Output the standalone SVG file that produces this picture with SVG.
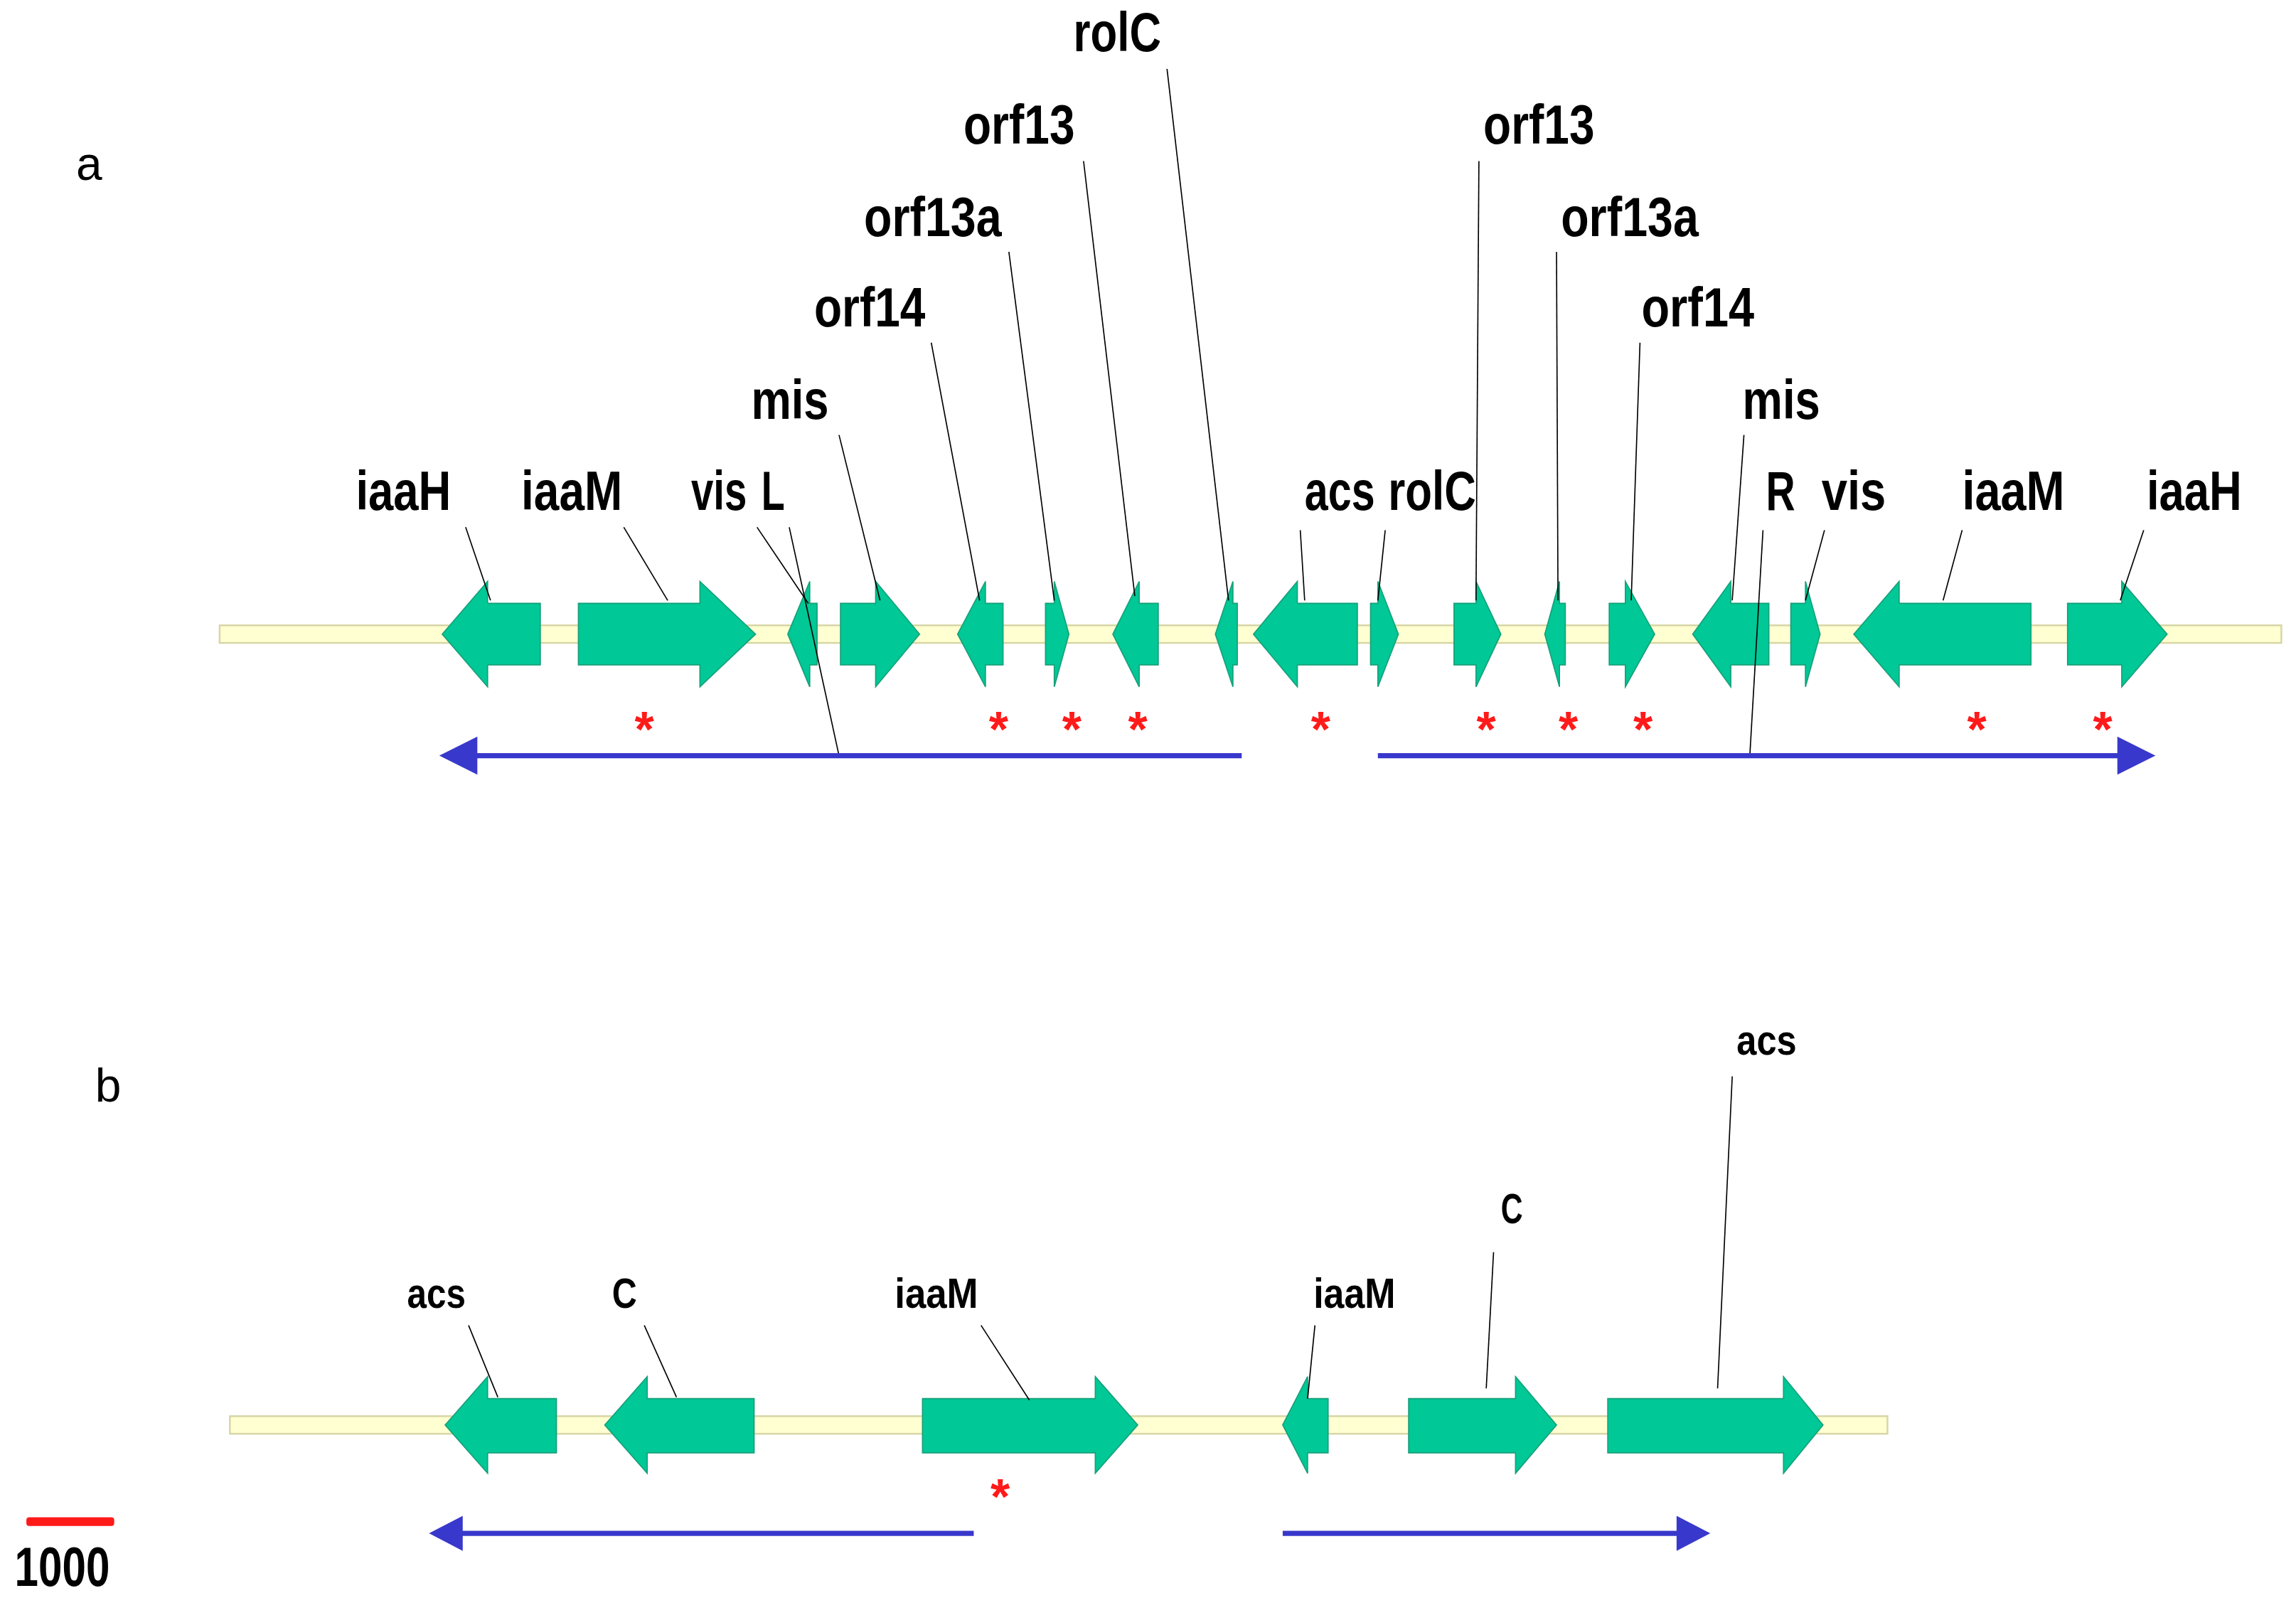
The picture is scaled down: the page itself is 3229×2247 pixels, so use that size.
<svg xmlns="http://www.w3.org/2000/svg" width="3229" height="2247" viewBox="0 0 3229 2247">
<style>
.g{fill:#00c896;stroke:#16a07a;stroke-width:0.8}
.bb{fill:#ffffd2;stroke:#d6d6a6;stroke-width:1.2}
.la{font-family:"Liberation Sans",Arial,sans-serif;font-weight:bold;font-size:38px;fill:#000}
.lb{font-family:"Liberation Sans",Arial,sans-serif;font-weight:bold;font-size:29px;fill:#000}
.ld{stroke:#000;stroke-width:0.8;fill:none}
.st{font-family:"Liberation Sans",Arial,sans-serif;font-weight:bold;font-size:34px;fill:#ff1a1a;text-anchor:middle}
.bl{stroke:#3838cc;stroke-width:3.5;fill:none}
.bh{fill:#3838cc}
.pl{font-family:"Liberation Sans",Arial,sans-serif;font-size:32px;fill:#000}
</style>
<rect width="3229" height="2247" fill="#fff"/>
<g transform="scale(2.0593)">
<text class="pl" x="52" y="123">a</text>
<text class="pl" x="65" y="752">b</text>
<g id="backbones">
<rect class="bb" x="150" y="427" width="1408" height="12"/>
<rect class="bb" x="157" y="967" width="1132" height="12"/>
</g>
<g id="genesA">
<polygon id="a1" class="g" points="302,433 333,397 333,412 369,412 369,454 333,454 333,469"/>
<polygon id="a2" class="g" points="395,412 478,412 478,397 516,433 478,469 478,454 395,454"/>
<polygon id="a3" class="g" points="538,433 553,397 553,412 558,412 558,454 553,454 553,469"/>
<polygon id="a4" class="g" points="574,412 598,412 598,397 628,433 598,469 598,454 574,454"/>
<polygon id="a5" class="g" points="654,433 673,397 673,412 685,412 685,454 673,454 673,469"/>
<polygon id="a6" class="g" points="714,412 720,412 720,397 730,433 720,469 720,454 714,454"/>
<polygon id="a7" class="g" points="760,433 778,397 778,412 791,412 791,454 778,454 778,469"/>
<polygon id="a8" class="g" points="830,433 842,397 842,412 845,412 845,454 842,454 842,469"/>
<polygon id="a9" class="g" points="856,433 886,397 886,412 927,412 927,454 886,454 886,469"/>
<polygon id="a10" class="g" points="936,412 941,412 941,397 955,433 941,469 941,454 936,454"/>
<polygon id="a11" class="g" points="993,412 1008,412 1008,397 1025,433 1008,469 1008,454 993,454"/>
<polygon id="a12" class="g" points="1055,433 1065,397 1065,412 1069,412 1069,454 1065,454 1065,469"/>
<polygon id="a13" class="g" points="1099,412 1110,412 1110,397 1130,433 1110,469 1110,454 1099,454"/>
<polygon id="a14" class="g" points="1156,433 1182,397 1182,412 1208,412 1208,454 1182,454 1182,469"/>
<polygon id="a15" class="g" points="1223,412 1233,412 1233,397 1243,433 1233,469 1233,454 1223,454"/>
<polygon id="a16" class="g" points="1266,433 1297,397 1297,412 1387,412 1387,454 1297,454 1297,469"/>
<polygon id="a17" class="g" points="1412,412 1449,412 1449,397 1480,433 1449,469 1449,454 1412,454"/>
</g>
<g id="genesB">
<polygon id="b1" class="g" points="304,973 333,940 333,955 380,955 380,992 333,992 333,1006"/>
<polygon id="b2" class="g" points="413,973 442,940 442,955 515,955 515,992 442,992 442,1006"/>
<polygon id="b3" class="g" points="630,955 748,955 748,940 777,973 748,1006 748,992 630,992"/>
<polygon id="b4" class="g" points="876,973 893,940 893,955 907,955 907,992 893,992 893,1006"/>
<polygon id="b5" class="g" points="962,955 1035,955 1035,940 1063,973 1035,1006 1035,992 962,992"/>
<polygon id="b6" class="g" points="1098,955 1218,955 1218,940 1245,973 1218,1006 1218,992 1098,992"/>
</g>
<g id="labelsA">
<text class="la" x="243" y="348" textLength="65" lengthAdjust="spacingAndGlyphs">iaaH</text>
<text class="la" x="356" y="348" textLength="69" lengthAdjust="spacingAndGlyphs">iaaM</text>
<text class="la" x="472" y="348" textLength="38" lengthAdjust="spacingAndGlyphs">vis</text>
<text class="la" x="520" y="348" textLength="16" lengthAdjust="spacingAndGlyphs">L</text>
<text class="la" x="513" y="286" textLength="53" lengthAdjust="spacingAndGlyphs">mis</text>
<text class="la" x="556" y="223" textLength="76" lengthAdjust="spacingAndGlyphs">orf14</text>
<text class="la" x="590" y="161" textLength="94" lengthAdjust="spacingAndGlyphs">orf13a</text>
<text class="la" x="658" y="98" textLength="76" lengthAdjust="spacingAndGlyphs">orf13</text>
<text class="la" x="733" y="35" textLength="60" lengthAdjust="spacingAndGlyphs">rolC</text>
<text class="la" x="891" y="348" textLength="48" lengthAdjust="spacingAndGlyphs">acs</text>
<text class="la" x="948" y="348" textLength="60" lengthAdjust="spacingAndGlyphs">rolC</text>
<text class="la" x="1013" y="98" textLength="76" lengthAdjust="spacingAndGlyphs">orf13</text>
<text class="la" x="1066" y="161" textLength="94" lengthAdjust="spacingAndGlyphs">orf13a</text>
<text class="la" x="1121" y="223" textLength="77" lengthAdjust="spacingAndGlyphs">orf14</text>
<text class="la" x="1190" y="286" textLength="53" lengthAdjust="spacingAndGlyphs">mis</text>
<text class="la" x="1206" y="348" textLength="20" lengthAdjust="spacingAndGlyphs">R</text>
<text class="la" x="1244" y="348" textLength="44" lengthAdjust="spacingAndGlyphs">vis</text>
<text class="la" x="1340" y="348" textLength="70" lengthAdjust="spacingAndGlyphs">iaaM</text>
<text class="la" x="1466" y="348" textLength="65" lengthAdjust="spacingAndGlyphs">iaaH</text>
</g>
<g id="labelsB">
<text class="lb" x="278" y="893" textLength="40" lengthAdjust="spacingAndGlyphs">acs</text>
<text class="lb" x="418" y="893" textLength="17" lengthAdjust="spacingAndGlyphs">C</text>
<text class="lb" x="611" y="893" textLength="57" lengthAdjust="spacingAndGlyphs">iaaM</text>
<text class="lb" x="897" y="893" textLength="56" lengthAdjust="spacingAndGlyphs">iaaM</text>
<text class="lb" x="1025" y="835" textLength="15" lengthAdjust="spacingAndGlyphs">C</text>
<text class="lb" x="1186" y="720" textLength="41" lengthAdjust="spacingAndGlyphs">acs</text>
</g>
<g id="connectors">
<path class="ld" d="M318,360 L335,410"/>
<path class="ld" d="M426,360 L456,410"/>
<path class="ld" d="M517,360 L552,412"/>
<path class="ld" d="M539,360 L573,516"/>
<path class="ld" d="M573,297 L601,410"/>
<path class="ld" d="M636,234 L669,410"/>
<path class="ld" d="M689,172 L720,410"/>
<path class="ld" d="M740,110 L775,407"/>
<path class="ld" d="M797,47 L839,410"/>
<path class="ld" d="M888,362 L891,410"/>
<path class="ld" d="M946,362 L941,410"/>
<path class="ld" d="M1010,110 L1008,410"/>
<path class="ld" d="M1063,172 L1064,410"/>
<path class="ld" d="M1120,234 L1114,410"/>
<path class="ld" d="M1191,297 L1183,410"/>
<path class="ld" d="M1204,362 L1195,516"/>
<path class="ld" d="M1246,362 L1233,410"/>
<path class="ld" d="M1340,362 L1327,410"/>
<path class="ld" d="M1464,362 L1448,410"/>
<path class="ld" d="M320,905 L340,954"/>
<path class="ld" d="M440,905 L462,954"/>
<path class="ld" d="M670,905 L703,956"/>
<path class="ld" d="M898,905 L893,955"/>
<path class="ld" d="M1020,855 L1015,948"/>
<path class="ld" d="M1183,735 L1173,948"/>
</g>
<g id="stars">
<text class="st" x="440" y="510">*</text>
<text class="st" x="682" y="510">*</text>
<text class="st" x="732" y="510">*</text>
<text class="st" x="777" y="510">*</text>
<text class="st" x="902" y="510">*</text>
<text class="st" x="1015" y="510">*</text>
<text class="st" x="1071" y="510">*</text>
<text class="st" x="1122" y="510">*</text>
<text class="st" x="1350" y="510">*</text>
<text class="st" x="1436" y="510">*</text>
<text class="st" x="683" y="1034">*</text>
</g>
<g id="blueArrows">
<path class="bl" d="M322,516 H848"/>
<polygon class="bh" points="300,516 326,503 326,529"/>
<path class="bl" d="M941,516 H1450"/>
<polygon class="bh" points="1472,516 1446,503 1446,529"/>
<path class="bl" d="M312,1047 H665"/>
<polygon class="bh" points="293,1047 316,1035 316,1059"/>
<path class="bl" d="M876,1047 H1150"/>
<polygon class="bh" points="1168,1047 1145,1035 1145,1059"/>
</g>
<g id="scale">
<rect x="18" y="1036" width="60" height="6" rx="2" fill="#ff1a1a"/>
<text class="la" x="10" y="1083" textLength="65" lengthAdjust="spacingAndGlyphs">1000</text>
</g>
</g>
</svg>
